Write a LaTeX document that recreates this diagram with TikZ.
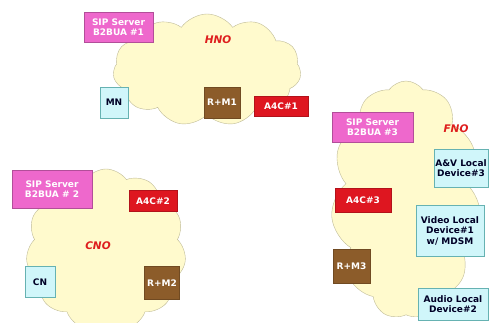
\documentclass[tikz,border=0pt]{standalone}
\usepackage{fontspec}
\setmainfont{DejaVu Sans}
\usetikzlibrary{shapes.symbols}

\definecolor{cloudfill}{RGB}{255,250,205}
\definecolor{cloudline}{RGB}{190,186,150}
\definecolor{sippink}{RGB}{238,104,204}
\definecolor{devcyan}{RGB}{208,246,250}
\definecolor{rmbrown}{RGB}{140,92,42}
\definecolor{acred}{RGB}{222,22,32}
\definecolor{netred}{RGB}{222,30,30}

\tikzset{
  box/.style={draw, inner sep=1pt, align=center, font=\fontsize{9}{10.5}\selectfont\bfseries},
  sipbox/.style={box, fill=sippink, draw=sippink!75!black, text=white},
  devbox/.style={box, fill=devcyan, draw=teal!60, text=black!85!blue},
  rmbox/.style={box, fill=rmbrown, draw=rmbrown!80!black, text=white},
  acbox/.style={box, fill=acred, draw=acred!80!black, text=white},
  netcloud/.style={cloud, cloud puffs=11, cloud puff arc=110, cloud ignores aspect, draw=cloudline, fill=cloudfill, inner sep=0pt},
  netlabel/.style={text=netred, font=\fontsize{10.5}{12}\selectfont\bfseries\itshape}
}

\begin{document}
\begin{tikzpicture}[x=1pt,y=-1pt]
  \useasboundingbox (0,0) rectangle (504,322);
  % clouds
  \node[netcloud, minimum width=188pt, minimum height=112pt] (hnocloud) at (207,70) {};
  \node[netcloud, minimum width=160pt, minimum height=162pt] (cnocloud) at (106,250) {};
  \node[netcloud, minimum width=150pt, minimum height=238pt] (fnocloud) at (406,200) {};
  % HNO
  \node[netlabel] (hno) at (218,40) {HNO};
  \node[sipbox, minimum width=69pt, minimum height=30pt] (sip1) at (118.5,27) {SIP Server\\B2BUA \#1};
  \node[devbox, minimum width=28pt, minimum height=31pt] (mn) at (114,102.5) {MN};
  \node[rmbox, minimum width=36pt, minimum height=31pt] (rm1) at (222,102.5) {R+M1};
  \node[acbox, minimum width=54pt, minimum height=20pt] (ac1) at (281,106) {A4C\#1};
  % CNO
  \node[netlabel] (cno) at (98,246) {CNO};
  \node[sipbox, minimum width=80pt, minimum height=38pt] (sip2) at (52,189) {SIP Server\\B2BUA \# 2};
  \node[acbox, minimum width=48pt, minimum height=21pt] (ac2) at (153,201) {A4C\#2};
  \node[devbox, minimum width=30pt, minimum height=31pt] (cn) at (40,282) {CN};
  \node[rmbox, minimum width=35pt, minimum height=33pt] (rm2) at (162,283) {R+M2};
  % FNO
  \node[netlabel] (fno) at (456,129) {FNO};
  \node[sipbox, minimum width=81pt, minimum height=30pt] (sip3) at (372.5,127) {SIP Server\\B2BUA \#3};
  \node[devbox, minimum width=54pt, minimum height=38pt] (av3) at (461,168) {A\&V Local\\Device\#3};
  \node[acbox, minimum width=56pt, minimum height=24pt] (ac3) at (363,200) {A4C\#3};
  \node[devbox, minimum width=68pt, minimum height=51pt] (vid1) at (450,230.5) {Video Local\\Device\#1\\w/ MDSM};
  \node[rmbox, minimum width=37pt, minimum height=34pt] (rm3) at (351.5,266) {R+M3};
  \node[devbox, minimum width=70pt, minimum height=32pt] (aud2) at (453,304) {Audio Local\\Device\#2};
\end{tikzpicture}
\end{document}
